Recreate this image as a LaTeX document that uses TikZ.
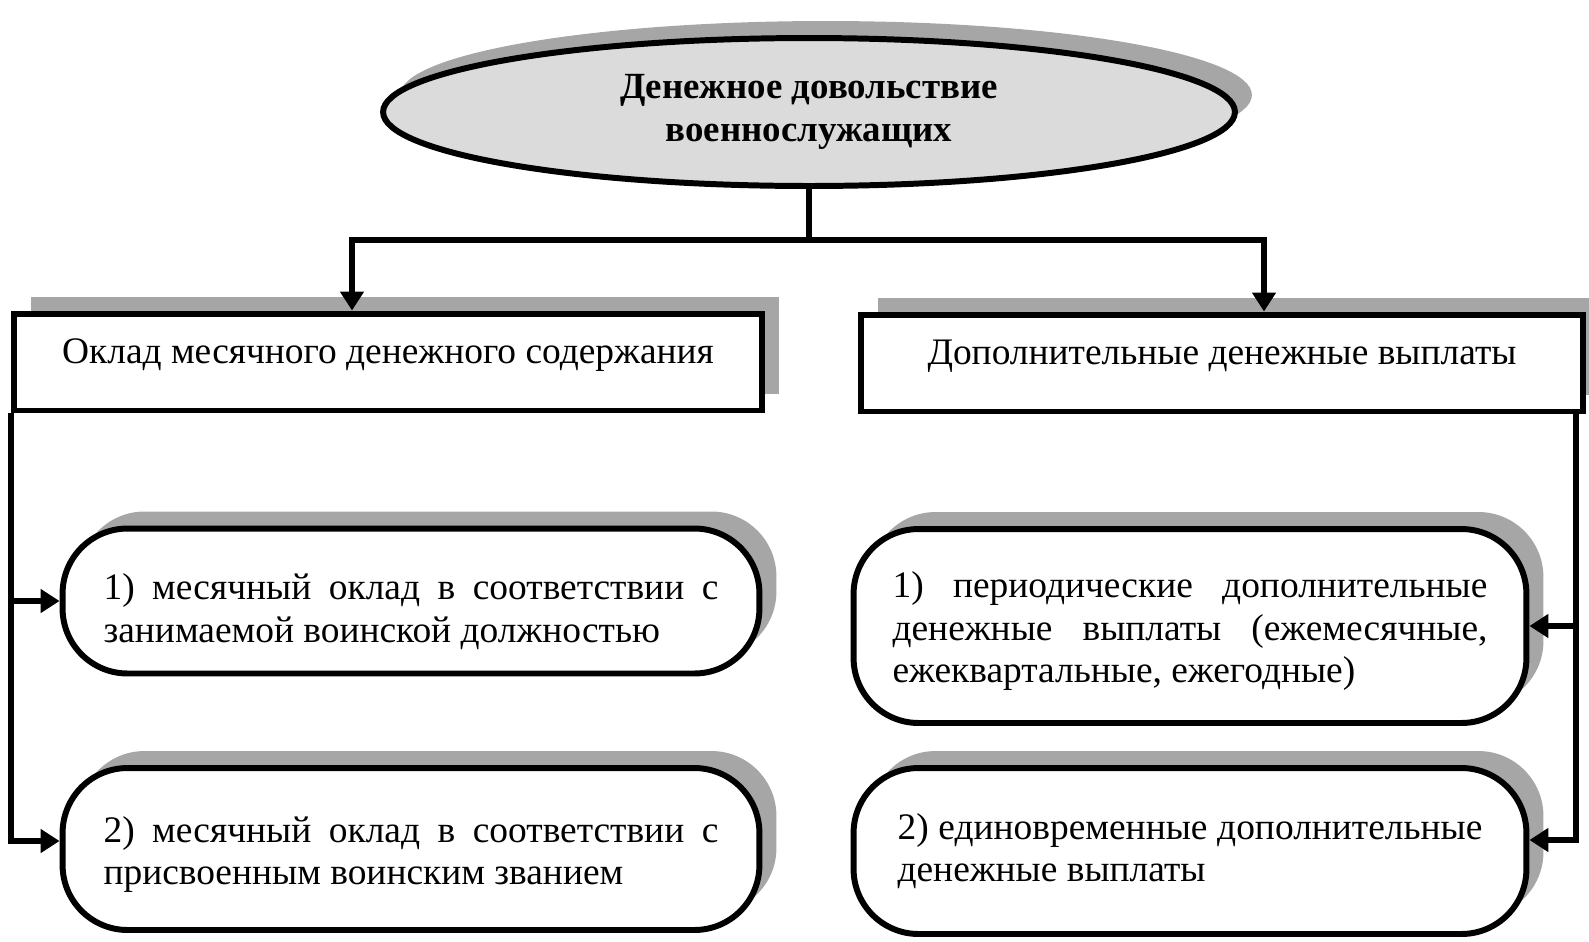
\documentclass[tikz,border=0pt]{standalone}
\usepackage{fontspec}
\setmainfont{Liberation Serif}
\usetikzlibrary{shapes.geometric,shadows,arrows.meta}
\hyphenpenalty=10000
\tikzset{
    shadowed/.style={drop shadow={shadow xshift=0.34cm,shadow yshift=0.34cm,fill=black!35,opacity=1}},
    headnode/.style={ellipse,draw,line width=3.4pt,fill=black!14,minimum width=17.04cm,minimum height=2.96cm,
        font=\fontsize{21}{24.5}\selectfont\bfseries,align=center,shadowed},
    kindnode/.style={rectangle,draw,line width=3.4pt,fill=white,minimum height=1.94cm,
        font=\fontsize{21.3}{24.2}\selectfont,text height=0.56cm,text depth=0.5cm,shadowed},
    partnode/.style={rectangle,rounded corners=1.3cm,draw,line width=3.4pt,fill=white,
        font=\fontsize{21.3}{24.2}\selectfont,align=justify,shadowed},
    link/.style={line width=3.4pt,line join=miter},
    arr/.style={link,-{Triangle[length=0.38cm,width=0.46cm]}},
}
\begin{document}
\begin{tikzpicture}[x=0.02cm,y=-0.02cm]
    \useasboundingbox (0,0) rectangle (1589,941);
    % Title
    \node[headnode] (title) at (809,112) {Денежное довольствие\\военнослужащих};
    % Two kinds
    \node[kindnode,minimum width=14.96cm] (okl) at (388,362) {Оклад месячного денежного содержания};
    \node[kindnode,minimum width=14.44cm] (dop) at (1222,363) {Дополнительные денежные выплаты};
    % Left parts
    \node[partnode,minimum width=13.94cm,minimum height=2.9cm,text width=12.3cm,text height=0.94cm] (m1) at (411,601)
        {1) месячный оклад в соответствии с\linebreak занимаемой воинской должностью};
    \node[partnode,minimum width=13.94cm,minimum height=3.24cm,text width=12.3cm,text height=0.74cm] (m2) at (411,849)
        {2) месячный оклад в соответствии с\linebreak присвоенным воинским званием};
    % Right parts
    \node[partnode,minimum width=13.46cm,minimum height=3.88cm,text width=11.9cm,text height=0.72cm] (p1) at (1190,626)
        {1) периодические дополнительные\linebreak денежные выплаты (ежемесячные,\linebreak ежеквартальные, ежегодные)};
    \node[partnode,minimum width=13.46cm,minimum height=3.32cm,text width=11.7cm] (p2) at (1190,851)
        {2) единовременные дополнительные\linebreak денежные выплаты};
    % Fork from title
    \coordinate (fork) at (809,240);
    \coordinate (forkL) at (352,240);
    \coordinate (forkR) at (1264,240);
    \draw[link] (title.south) -- (fork);
    \draw[arr] (fork) -- (forkL) -- (forkL |- okl.north);
    \draw[arr] (fork) -- (forkR) -- (forkR |- dop.north);
    % Left bus
    \draw[arr] (okl.south west) |- (m1.west);
    \draw[arr] (okl.south west) |- ([yshift=0.16cm]m2.west);
    % Right bus
    \coordinate (busR) at (1576,412);
    \draw[arr] (busR) |- (p1.east);
    \draw[arr] (busR) |- ([yshift=0.22cm]p2.east);
\end{tikzpicture}
\end{document}
